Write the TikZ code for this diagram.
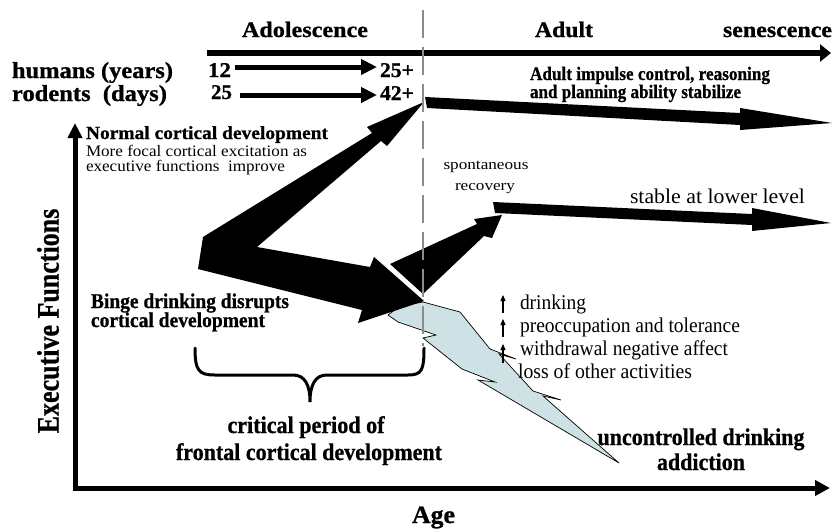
\documentclass[tikz,border=0pt]{standalone}
\usepackage{fontspec}
\setmainfont{Liberation Serif}[BoldFeatures={FakeBold=0.8}]
\usepackage{graphicx}
\usetikzlibrary{arrows.meta}
\definecolor{boltblue}{RGB}{206,226,229}
\definecolor{dashgray}{RGB}{140,140,140}
\newcommand\fitr[3]{\resizebox{#1pt}{\height}{\fontsize{#2}{#2}\selectfont #3}}
\newcommand\fitb[3]{\resizebox{#1pt}{\height}{\fontsize{#2}{#2}\selectfont\bfseries #3}}
\begin{document}
\begin{tikzpicture}[x=1pt,y=-1pt,
  lbl/.style={inner sep=0pt, outer sep=0pt, anchor=base west},
  lblc/.style={inner sep=0pt, outer sep=0pt, anchor=base},
  blackshape/.style={fill=black, draw=none},
  axisline/.style={line width=5pt, line join=miter},
  smallarrow/.style={line width=5pt, -{Triangle[length=16pt,width=15pt]}},
  uparrow/.style={line width=1.1pt, -{Triangle[length=6pt,width=5pt]}},
  boltstyle/.style={fill=boltblue, draw=black, line width=0.7pt, line join=miter},
  dashline/.style={draw=dashgray, line width=2pt, dash pattern=on 28pt off 9pt},
  bracestyle/.style={line width=3pt, line cap=round}]

\useasboundingbox (0,0) rectangle (832,530);

% axes
\coordinate (yaxtop) at (75,123);
\coordinate (origin) at (75,488);
\coordinate (xaxend) at (830,488);
\draw[axisline, {Triangle[length=15pt,width=14pt]}-{Triangle[length=15pt,width=15pt]}] (yaxtop) -- (origin) -- (xaxend);

% top time axis
\coordinate (tas) at (207,53);
\coordinate (tae) at (831,53);
\draw[line width=6pt, -{Triangle[length=11pt,width=17pt]}] (tas) -- (tae);

% small age arrows
\coordinate (h1s) at (235,67); \coordinate (h1e) at (377,67);
\coordinate (r1s) at (240,95); \coordinate (r1e) at (377,95);
\draw[smallarrow] (h1s) -- (h1e);
\draw[smallarrow] (r1s) -- (r1e);

% lightning bolt (addiction)
\draw[boltstyle] (400,306) -- (423,302) -- (460,312) -- (490,349) -- (516,359) -- (499,354)
  -- (533,391) -- (561,400) -- (543,396) -- (619,463) -- (478,380) -- (495,382) -- (462,369)
  -- (423,338) -- (436,335) -- (398,322) -- (388,315) -- cycle;

% normal development + binge drinking shape
\fill[blackshape] (424,102) -- (367,127) -- (372,133) -- (203,237) -- (198,269) -- (362,310)
  -- (358,323) -- (424,301) -- (374,257) -- (370,267) -- (257,247) -- (381,141) -- (387,146) -- cycle;

% spontaneous recovery arrow
\fill[blackshape] (390,264) -- (477,224) -- (474,219) -- (502,215) -- (492,238) -- (484,236) -- (423,294) -- cycle;

% stable at lower level arrow
\fill[blackshape] (493,202) -- (752,214) -- (752,208) -- (831,223) -- (752,231) -- (752,225) -- (495,213) -- cycle;

% adult arrow
\fill[blackshape] (425,97) -- (740,113) -- (740,108) -- (832,123) -- (740,130) -- (740,125) -- (427,108) -- cycle;

% dashed boundary
\coordinate (dtop) at (423,10);
\coordinate (dbot) at (423,346);
\draw[dashline] (dtop) -- (dbot);

% brace
\draw[bracestyle] (195,348) .. controls (195,371) and (199,375) .. (215,375) -- (293,375)
  .. controls (305,375) and (310,385) .. (310,402) .. controls (310,385) and (315,375) .. (327,375)
  -- (408,375) .. controls (422,375) and (424,370) .. (424,348);

% up arrows
\coordinate (u1s) at (503,313); \coordinate (u1e) at (503,295);
\coordinate (u2s) at (503,337); \coordinate (u2e) at (503,319);
\coordinate (u3s) at (503,363); \coordinate (u3e) at (503,344);
\draw[uparrow] (u1s) -- (u1e);
\draw[uparrow] (u2s) -- (u2e);
\draw[uparrow] (u3s) -- (u3e);

% texts
\node[lbl] (adol) at (242,37) {\fitb{126}{22}{Adolescence}};
\node[lbl] (adult) at (535,37) {\fitb{58}{22}{Adult}};
\node[lbl] (senes) at (723,37) {\fitb{109}{22}{senescence}};
\node[lbl] (humans) at (12,78) {\fitb{161}{23}{humans (years)}};
\node[lbl] (rodents) at (12,101) {\fitb{155}{23}{rodents\ \ (days)}};
\node[lbl] (n12) at (208,77) {\fitb{23}{21}{12}};
\node[lbl] (n25p) at (380,77) {\fitb{34}{21}{25+}};
\node[lbl] (n25) at (211,99) {\fitb{21}{21}{25}};
\node[lbl] (n42p) at (380,100) {\fitb{34}{21}{42+}};
\node[lbl] (aimp1) at (530,80) {\fitb{240}{19}{Adult impulse control, reasoning}};
\node[lbl] (aimp2) at (530,98) {\fitb{211}{19}{and planning ability stabilize}};
\node[lbl] (normal) at (86,139) {\fitb{242}{18.5}{Normal cortical development}};
\node[lbl] (focal) at (86,156) {\fitr{221}{16}{More focal cortical excitation as}};
\node[lbl] (improve) at (86,171) {\fitr{199}{16}{executive functions\ \ improve}};
\node[lblc] (spont) at (486,169) {\fitr{85}{15}{spontaneous}};
\node[lblc] (recov) at (485,190) {\fitr{60}{15}{recovery}};
\node[lbl] (stable) at (630,203) {\fitr{175}{21}{stable at lower level}};
\node[lbl] (binge1) at (91,308) {\fitb{198}{21}{Binge drinking disrupts}};
\node[lbl] (binge2) at (91,327) {\fitb{174}{21}{cortical development}};
\node[lblc] (crit1) at (306,433) {\fitb{157}{24}{critical period of}};
\node[lblc] (crit2) at (309,460) {\fitb{266}{24}{frontal cortical development}};
\node[lbl] (drink) at (520,309) {\fitr{66}{21}{drinking}};
\node[lbl] (preocc) at (520,332) {\fitr{220}{21}{preoccupation and tolerance}};
\node[lbl] (withdr) at (520,355) {\fitr{208}{21}{withdrawal negative affect}};
\node[lbl] (loss) at (518,378) {\fitr{174}{21}{loss of other activities}};
\node[lblc] (uncon) at (701,445) {\fitb{207}{24}{uncontrolled drinking}};
\node[lblc] (addict) at (701,470) {\fitb{88}{24}{addiction}};
\node[lbl] (age) at (412,523) {\fitb{43}{25}{Age}};
\node[rotate=90, inner sep=0pt] (execf) at (48,321) {\scalebox{1}[1.2]{\fontsize{26}{26}\selectfont\bfseries Executive Functions}};
\end{tikzpicture}
\end{document}
